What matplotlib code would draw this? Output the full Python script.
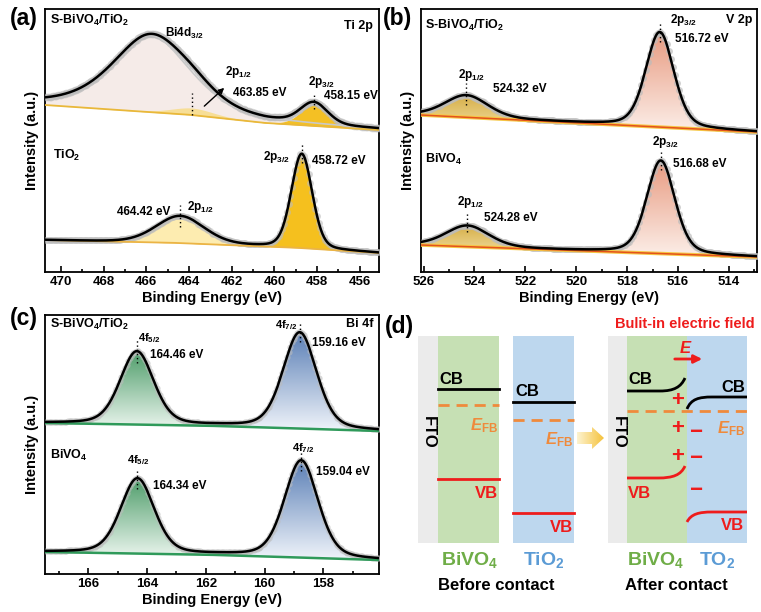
import numpy as np
import matplotlib
matplotlib.use("Agg")
import matplotlib.pyplot as plt
from matplotlib.patches import Rectangle, Polygon, FancyArrowPatch, PathPatch
from matplotlib.path import Path
from matplotlib.colors import LinearSegmentedColormap
from matplotlib.ticker import MultipleLocator

plt.rcParams.update({
    "font.family": ["Liberation Sans", "DejaVu Sans"],
    "font.weight": "bold",
    "mathtext.fontset": "custom",
    "mathtext.rm": "Liberation Sans:bold",
    "mathtext.it": "Liberation Sans:italic:bold",
    "mathtext.bf": "Liberation Sans:bold",
    "mathtext.default": "rm",
    "axes.linewidth": 1.3,
})

# ------------------------------------------------------------------ data
# (a) Ti 2p
a_xlim = (470.75, 455.1)
a1_bg_E = [470.75, 463.85, 460.4, 458.15, 455.1]
a1_bg_I = [167, 157, 149, 146, 142]
a1_bi_center, a1_bi_height, a1_bi_fwhm = 465.8, 77, 4.3
a1_ti_center = [463.85, 458.15]
a1_ti_height = [7, 21]
a1_ti_fwhm = [2.4, 1.5]
a2_bg_E = [470.75, 464.42, 461.0, 458.72, 455.1]
a2_bg_I = [32, 29, 26, 24, 19]
a2_center = [464.42, 458.72]
a2_height = [27, 94]
a2_fwhm = [2.65, 1.15]

# (b) V 2p
b_xlim = (526.1, 512.9)
b1_bg_E = [526.1, 512.9]
b1_bg_I = [157, 140]
b1_center = [524.32, 516.72]
b1_height = [22, 95]
b1_fwhm = [2.0, 1.3]
b2_bg_E = [526.1, 512.9]
b2_bg_I = [27, 15]
b2_center = [524.28, 516.68]
b2_height = [21, 93]
b2_fwhm = [2.0, 1.3]

# (c) Bi 4f  (peak positions as drawn on the axis; labels carry the fitted values)
c_xlim = (167.48, 156.1)
c1_bg_E = [167.48, 161.5, 156.1]
c1_bg_I = [151, 148, 143]
c1_center = [164.35, 158.8]
c1_label = ["164.46 eV", "159.16 eV"]
c1_height = [73, 96]
c1_fwhm = [1.35, 1.35]
c2_bg_E = [167.48, 161.5, 156.1]
c2_bg_I = [22, 19, 14]
c2_center = [164.33, 158.75]
c2_label = ["164.34 eV", "159.04 eV"]
c2_height = [75, 97]
c2_fwhm = [1.35, 1.35]

# (d) band diagram levels (pixel-space schematic)
d_top, d_bot = 336, 543
d_blocks = [(418, 438, "#ebebeb"), (438, 499, "#c6e0b4"), (513, 574, "#bdd7ee"),
            (608, 627, "#ebebeb"), (627, 687, "#c6e0b4"), (687, 747, "#bdd7ee")]
bivo4_before = {"CB": 389, "EFB": 405, "VB": 479}
tio2_before = {"CB": 402, "EFB": 420, "VB": 513}
efb_after = 411

W, H = 761, 612
fig = plt.figure(figsize=(W / 100, H / 100), dpi=100)


def pvoigt(E, c, h, w, eta=0.2):
    x = (E - c) / (w / 2.0)
    return h * (eta / (1 + x ** 2) + (1 - eta) * np.exp(-np.log(2) * x ** 2))


def base(E, bgE, bgI):
    o = np.argsort(bgE)
    return np.interp(E, np.array(bgE)[o], np.array(bgI)[o])


def grad_fill(ax, x, ylo, yhi, c_top, c_bot, z):
    verts = np.concatenate([np.column_stack([x, yhi]), np.column_stack([x[::-1], ylo[::-1]])])
    patch = PathPatch(Path(verts), fc="none", ec="none")
    ax.add_patch(patch)
    cmap = LinearSegmentedColormap.from_list("g", [c_bot, c_top])
    im = ax.imshow(np.linspace(0, 1, 256)[:, None], cmap=cmap, aspect="auto", origin="lower",
                   extent=[x.min(), x.max(), ylo.min(), yhi.max()], zorder=z,
                   interpolation="bilinear")
    im.set_clip_path(patch)


def make_axes(l, r, t, b, xlim, ylim, major=2):
    ax = fig.add_axes([l / W, 1 - b / H, (r - l) / W, (b - t) / H])
    ax.set_xlim(*xlim)
    ax.set_ylim(*ylim)
    ax.xaxis.set_major_locator(MultipleLocator(major))
    ax.xaxis.set_minor_locator(MultipleLocator(major / 2))
    ax.tick_params(axis="x", which="both", direction="in", top=False, labelsize=9.5, pad=3,
                   width=1.2)
    ax.tick_params(axis="x", which="major", length=4)
    ax.tick_params(axis="x", which="minor", length=2.5)
    ax.tick_params(axis="y", left=False, labelleft=False)
    for lab in ax.get_xticklabels():
        lab.set_fontweight("bold")
    ax.set_xlabel("Binding Energy (eV)", fontsize=10.5, fontweight="bold", labelpad=2)
    ax.set_ylabel("Intensity (a.u.)", fontsize=10.5, fontweight="bold", labelpad=4)
    return ax


def ppe(ax):
    # pixels per eV of an axes (x inverted)
    x0, x1 = ax.get_xlim()
    return ax.get_position().width * W / (x0 - x1)


def peak_marks(ax, c, top, up, down, labels):
    # labels: (text, dx pixels (+ = left), dy pixels (+ = up), ha, size)
    k = ppe(ax)
    ax.plot([c, c], [top - down, top + up], ls=(0, (1, 2)), color="k", lw=1.0, zorder=6)
    for txt, dx, dy, ha, fs in labels:
        ax.text(c + dx / k, top + dy, txt, ha=ha, va="center", fontsize=fs,
                fontweight="bold", zorder=7)


def data_dots(ax, E, y, step=4, ms=4.5, alpha=0.6):
    ax.plot(E[::step], y[::step], "o", ms=ms, color="#bcbcbc", mec="none", alpha=alpha, zorder=3)


def ftext(x, y, s, **kw):
    fig.text(x / W, 1 - y / H, s, **kw)


# ------------------------------------------------------------------ (a)
axa = make_axes(45, 379, 9, 272, a_xlim, (0, 263))
E = np.linspace(a_xlim[1], a_xlim[0], 800)
bg1 = base(E, a1_bg_E, a1_bg_I)
bi = pvoigt(E, a1_bi_center, a1_bi_height, a1_bi_fwhm, 0.55)
ti = [pvoigt(E, c, h, w) for c, h, w in zip(a1_ti_center, a1_ti_height, a1_ti_fwhm)]
tot1 = bg1 + bi + ti[0] + ti[1]
axa.fill_between(E, bg1, bg1 + bi, color="#f5ebe8", lw=0, zorder=1)
axa.fill_between(E, bg1, bg1 + ti[0], color="#f8dc88", lw=0, alpha=0.85, zorder=2)
axa.fill_between(E, bg1, bg1 + ti[1], color="#f4c024", lw=0, zorder=2)
data_dots(axa, E, tot1, ms=5.5)
axa.plot(E, bg1 + bi, color="#c9c9c9", lw=1.2, zorder=3)
axa.plot(E, bg1, color="#e9b83a", lw=1.3, zorder=4)
axa.plot(E, tot1, color="k", lw=1.8, zorder=5)

bg2 = base(E, a2_bg_E, a2_bg_I)
p2 = [pvoigt(E, c, h, w) for c, h, w in zip(a2_center, a2_height, a2_fwhm)]
tot2 = bg2 + p2[0] + p2[1]
axa.fill_between(E, bg2, bg2 + p2[0], color="#fdecb0", lw=0, zorder=2)
axa.fill_between(E, bg2, bg2 + p2[1], color="#f5c01e", lw=0, zorder=2)
data_dots(axa, E, tot2, ms=5)
axa.plot(E, bg2, color="#ebb445", lw=1.3, zorder=4)
axa.plot(E, tot2, color="k", lw=1.8, zorder=5)

k = ppe(axa)
top = np.interp(a1_ti_center[1], E, tot1)
peak_marks(axa, a1_ti_center[1], top, 9, 7,
           [("2p$_{3/2}$", -8, 20, "center", 8.5), ("458.15 eV", -10, 6, "left", 8.5)])
topc = np.interp(a1_ti_center[0], E, bg1 + ti[0])
peak_marks(axa, a1_ti_center[0], topc, 15, 7,
           [("2p$_{1/2}$", -33, 36, "left", 8.5), ("463.85 eV", -41, 15, "left", 8.5)])
axa.annotate("", xy=(a1_ti_center[0] - 34 / k, topc + 22), xytext=(a1_ti_center[0] - 10 / k, topc),
             arrowprops=dict(arrowstyle="-|>", color="k", lw=1.0, mutation_scale=8), zorder=7)
axa.text(a1_bi_center - 14 / k, 239, "Bi4d$_{3/2}$", ha="left", va="center", fontsize=8.5,
         fontweight="bold")
top = np.interp(a2_center[1], E, tot2)
peak_marks(axa, a2_center[1], top, 10, 9,
           [("2p$_{3/2}$", 12, -3, "right", 8.5), ("458.72 eV", -10, -7, "left", 8.5)])
top = np.interp(a2_center[0], E, tot2)
peak_marks(axa, a2_center[0], top, 11, 11,
           [("464.42 eV", 10, 4, "right", 8.5), ("2p$_{1/2}$", -7, 9, "left", 8.5)])
ftext(50, 20, "S-BiVO$_4$/TiO$_2$", fontsize=9, va="center", ha="left")
ftext(373, 26, "Ti 2p", fontsize=9, va="center", ha="right")
ftext(53, 155, "TiO$_2$", fontsize=9, va="center", ha="left")

# ------------------------------------------------------------------ (b)
axb = make_axes(421, 757, 9, 272, b_xlim, (0, 263))
E = np.linspace(b_xlim[1], b_xlim[0], 800)
for bgE, bgI, cs, hs, ws, name, yname in [
        (b1_bg_E, b1_bg_I, b1_center, b1_height, b1_fwhm, "S-BiVO$_4$/TiO$_2$", 25),
        (b2_bg_E, b2_bg_I, b2_center, b2_height, b2_fwhm, "BiVO$_4$", 159)]:
    bg = base(E, bgE, bgI)
    pk = [pvoigt(E, c, h, w, 0.3) for c, h, w in zip(cs, hs, ws)]
    tot = bg + pk[0] + pk[1]
    grad_fill(axb, E, bg, bg + pk[0], "#d6ae48", "#f3e2a6", 1)
    grad_fill(axb, E, bg, bg + pk[1], "#e89a80", "#fcefe9", 1)
    data_dots(axb, E, tot, step=5, ms=5, alpha=0.7)
    axb.plot(E, bg, color="#f6c744", lw=2.6, zorder=4)
    axb.plot(E, bg, color="#e4521c", lw=1.1, zorder=4)
    axb.plot(E, tot, color="k", lw=1.8, zorder=5)
    ftext(425, yname, name, fontsize=9, va="center", ha="left")
    t3 = np.interp(cs[1], E, tot)
    t1 = np.interp(cs[0], E, tot)
    if name.startswith("S"):
        peak_marks(axb, cs[1], t3, 10, 10,
                   [("2p$_{3/2}$", -10, 12, "left", 8.5), ("516.72 eV", -15, -7, "left", 8.5)])
        peak_marks(axb, cs[0], t1, 12, 10,
                   [("2p$_{1/2}$", -5, 20, "center", 8.5), ("524.32 eV", -27, 6, "left", 8.5)])
    else:
        peak_marks(axb, cs[1], t3, 8, 10,
                   [("2p$_{3/2}$", -5, 18, "center", 8.5), ("516.68 eV", -12, -4, "left", 8.5)])
        peak_marks(axb, cs[0], t1, 13, 7,
                   [("2p$_{1/2}$", -3, 23, "center", 8.5), ("524.28 eV", -17, 7, "left", 8.5)])
ftext(752, 20, "V 2p", fontsize=9, va="center", ha="right")

# ------------------------------------------------------------------ (c)
axc = make_axes(45, 379, 315, 574, c_xlim, (0, 259))
E = np.linspace(c_xlim[1], c_xlim[0], 800)
for bgE, bgI, cs, hs, ws, labs, name, yname in [
        (c1_bg_E, c1_bg_I, c1_center, c1_height, c1_fwhm, c1_label, "S-BiVO$_4$/TiO$_2$", 324),
        (c2_bg_E, c2_bg_I, c2_center, c2_height, c2_fwhm, c2_label, "BiVO$_4$", 455)]:
    bg = base(E, bgE, bgI)
    pk = [pvoigt(E, c, h, w, 0.3) for c, h, w in zip(cs, hs, ws)]
    tot = bg + pk[0] + pk[1]
    grad_fill(axc, E, bg, bg + pk[0], "#4e9d6a", "#f0f8f2", 1)
    grad_fill(axc, E, bg, bg + pk[1], "#5a7fb6", "#f0f4fa", 1)
    data_dots(axc, E, tot, step=4, ms=4.5, alpha=0.6)
    axc.plot(E, bg, color="#2f9a5a", lw=1.8, zorder=4)
    axc.plot(E, tot, color="k", lw=1.8, zorder=5)
    ftext(50, yname, name, fontsize=9, va="center", ha="left")
    t5 = np.interp(cs[0], E, tot)
    t7 = np.interp(cs[1], E, tot)
    if name.startswith("S"):
        peak_marks(axc, cs[0], t5, 11, 12,
                   [("4f$_{5/2}$", -1, 13, "left", 8), (labs[0], -13, -4, "left", 8.5)])
        peak_marks(axc, cs[1], t7, 10, 10,
                   [("4f$_{7/2}$", 2, 7, "right", 8), (labs[1], -12, -11, "left", 8.5)])
    else:
        peak_marks(axc, cs[0], t5, 7, 11,
                   [("4f$_{5/2}$", -1, 18, "center", 8), (labs[0], -16, -8, "left", 8.5)])
        peak_marks(axc, cs[1], t7, 8, 11,
                   [("4f$_{7/2}$", -2, 12, "center", 8), (labs[1], -15, -12, "left", 8.5)])
ftext(373, 324, "Bi 4f", fontsize=9, va="center", ha="right")

# ------------------------------------------------------------------ (d)
axd = fig.add_axes([380 / W, 0, 381 / W, 312 / H])
axd.set_xlim(380, 761)
axd.set_ylim(612, 300)
axd.axis("off")
for x0, x1, col in d_blocks:
    axd.add_patch(Rectangle((x0, d_top), x1 - x0, d_bot - d_top, fc=col, ec="none", zorder=1))

red, orange, green, blue = "#ee1c1c", "#ef8a3c", "#6fad47", "#5b9bd5"
# before contact
for (x0, x1), lv in [((438, 499), bivo4_before), ((513, 574), tio2_before)]:
    axd.plot([x0, x1], [lv["CB"], lv["CB"]], color="k", lw=2, zorder=3)
    axd.plot([x0, x1], [lv["EFB"], lv["EFB"]], color=orange, lw=2, ls=(0, (4, 2.5)), zorder=3)
    axd.plot([x0, x1], [lv["VB"], lv["VB"]], color=red, lw=2, zorder=3)
fs_d = 12
axd.text(439, 380, "CB", fontsize=fs_d, ha="left", va="center")
axd.text(515, 392, "CB", fontsize=fs_d, ha="left", va="center")
axd.text(498, 426, r"$\mathit{E}_{\mathrm{FB}}$", fontsize=fs_d, ha="right", va="center", color=orange)
axd.text(573, 440, r"$\mathit{E}_{\mathrm{FB}}$", fontsize=fs_d, ha="right", va="center", color=orange)
axd.text(498, 493, "VB", fontsize=fs_d, ha="right", va="center", color=red)
axd.text(573, 527, "VB", fontsize=fs_d, ha="right", va="center", color=red)
axd.text(428, 432, "FTO", fontsize=fs_d, ha="center", va="center", rotation=-90)
axd.text(618, 432, "FTO", fontsize=fs_d, ha="center", va="center", rotation=-90)

# yellow arrow
arrow = Polygon([(577, 432), (592, 432), (592, 427), (604, 438), (592, 449), (592, 444), (577, 444)],
                closed=True, fc="none", ec="none")
axd.add_patch(arrow)
im = axd.imshow(np.linspace(0, 1, 64)[None, :],
                cmap=LinearSegmentedColormap.from_list("y", ["#fdf3d0", "#f5c23c"]),
                extent=[577, 604, 449, 427], aspect="auto", zorder=2)
im.set_clip_path(arrow)


# after contact
def bez(pts, codes, col):
    axd.add_patch(PathPatch(Path(pts, codes), fc="none", ec=col, lw=2, zorder=3))


M, L, C = Path.MOVETO, Path.LINETO, Path.CURVE4
bez([(627, 391), (660, 391), (674, 391), (681, 387), (685, 378)], [M, L, C, C, C], "k")
bez([(687, 409), (691, 399), (699, 397), (712, 397), (747, 397)], [M, C, C, C, L], "k")
bez([(627, 478), (658, 478), (673, 478), (681, 475), (685, 466)], [M, L, C, C, C], red)
bez([(687, 522), (691, 514), (699, 512), (712, 512), (747, 512)], [M, C, C, C, L], red)
axd.plot([627, 747], [efb_after, efb_after], color=orange, lw=2, ls=(0, (4, 2.5)), zorder=3)
for y in (400, 428, 456):
    axd.text(678, y, "+", fontsize=16, color=red, ha="center", va="center", zorder=4)
for y in (432, 459, 490):
    axd.text(696, y, "\u2212", fontsize=16, color=red, ha="center", va="center", zorder=4)
axd.text(628, 380, "CB", fontsize=fs_d, ha="left", va="center")
axd.text(745, 387, "CB", fontsize=fs_d, ha="right", va="center")
axd.text(745, 429, r"$\mathit{E}_{\mathrm{FB}}$", fontsize=fs_d, ha="right", va="center", color=orange)
axd.text(628, 493, "VB", fontsize=fs_d, ha="left", va="center", color=red)
axd.text(744, 526, "VB", fontsize=fs_d, ha="right", va="center", color=red)
axd.text(686, 348, r"$\mathit{E}$", fontsize=12, ha="center", va="center", color=red)
axd.add_patch(FancyArrowPatch((672, 359), (705, 359), arrowstyle="-|>", mutation_scale=12,
                              color=red, lw=2, zorder=4))
axd.text(685, 324, "Bulit-in electric field", fontsize=10.5, ha="center", va="center", color=red)

axd.text(470, 560, "BiVO$_4$", fontsize=14, ha="center", va="center", color=green)
axd.text(544, 560, "TiO$_2$", fontsize=14, ha="center", va="center", color=blue)
axd.text(656, 560, "BiVO$_4$", fontsize=14, ha="center", va="center", color=green)
axd.text(717, 560, "TO$_2$", fontsize=14, ha="center", va="center", color=blue)
axd.text(496, 585, "Before contact", fontsize=12, ha="center", va="center")
axd.text(676, 585, "After contact", fontsize=12, ha="center", va="center")

# panel letters
ftext(10, 18, "(a)", fontsize=16.5, va="center", ha="left")
ftext(383, 18, "(b)", fontsize=16.5, va="center", ha="left")
ftext(10, 318, "(c)", fontsize=16.5, va="center", ha="left")
ftext(385, 326, "(d)", fontsize=16.5, va="center", ha="left")

fig.savefig("out.png", dpi=100, facecolor="white")
